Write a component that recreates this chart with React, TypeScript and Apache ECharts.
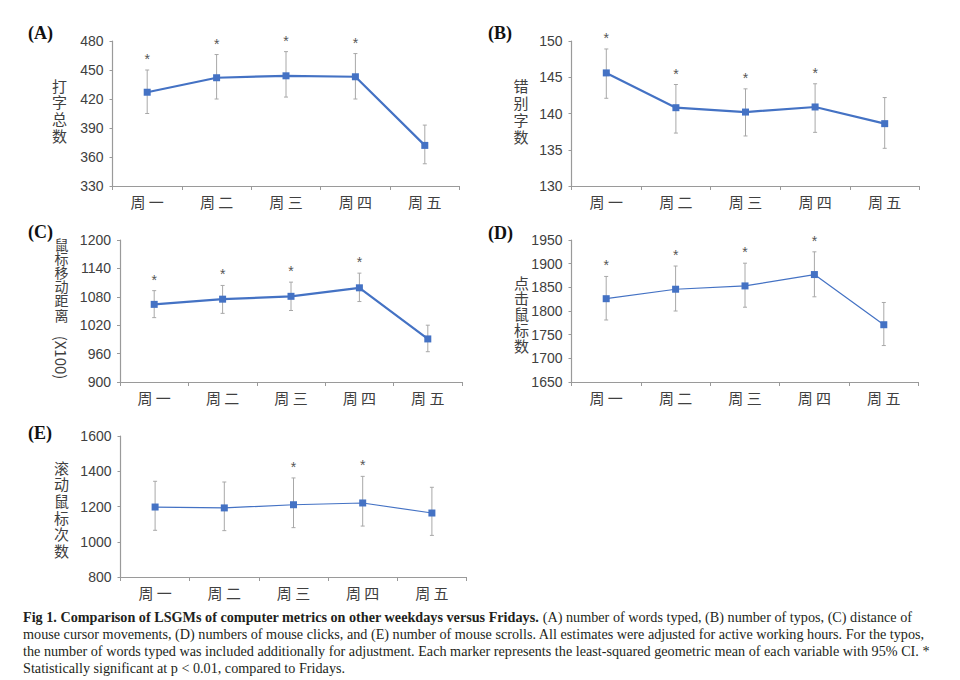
import React, { useEffect, useRef } from "react";
import * as echarts from "echarts";

const categories = ["周一", "周二", "周三", "周四", "周五"];

// (A) number of words typed
const wordsMean = [427, 442, 444, 443, 372];
const wordsLow = [405, 420, 422, 420, 353];
const wordsHigh = [450, 466, 469, 467, 393];
const wordsSig = [1, 1, 1, 1, 0];

// (B) number of typos
const typosMean = [145.6, 140.8, 140.2, 140.9, 138.6];
const typosLow = [142.1, 137.3, 136.9, 137.4, 135.2];
const typosHigh = [148.9, 144.0, 143.4, 144.1, 142.2];
const typosSig = [1, 1, 1, 1, 0];

// (C) mouse cursor distance (x100)
const distMean = [1064, 1075, 1081, 1099, 991];
const distLow = [1036, 1045, 1051, 1070, 964];
const distHigh = [1093, 1104, 1111, 1130, 1020];
const distSig = [1, 1, 1, 1, 0];

// (D) mouse clicks
const clickMean = [1826, 1846, 1853, 1877, 1771];
const clickLow = [1781, 1800, 1808, 1830, 1727];
const clickHigh = [1873, 1895, 1901, 1925, 1818];
const clickSig = [1, 1, 1, 1, 0];

// (E) mouse scrolls
const scrollMean = [1197, 1192, 1210, 1220, 1163];
const scrollLow = [1065, 1063, 1080, 1089, 1036];
const scrollHigh = [1343, 1339, 1362, 1371, 1309];
const scrollSig = [0, 0, 1, 1, 0];

const yMins = [330, 130, 900, 1650, 800];
const yMaxs = [480, 150, 1200, 1950, 1600];
const yIntervals = [30, 5, 60, 50, 200];

const panelLetters = ["(A)", "(B)", "(C)", "(D)", "(E)"];
const yNames = ["打字总数", "错别字数", "鼠标移动距离", "点击鼠标数", "滚动鼠标次数"];
const yNameSuffixC = "(X100)";

const captionBold = "Fig 1. Comparison of LSGMs of computer metrics on other weekdays versus Fridays.";
const captionLines = [
  " (A) number of words typed, (B) number of typos, (C) distance of",
  "mouse cursor movements, (D) numbers of mouse clicks, and (E) number of mouse scrolls. All estimates were adjusted for active working hours. For the typos,",
  "the number of words typed was included additionally for adjustment. Each marker represents the least-squared geometric mean of each variable with 95% CI. *",
  "Statistically significant at p < 0.01, compared to Fridays.",
];

const panels = [
  { mean: wordsMean, low: wordsLow, high: wordsHigh, sig: wordsSig },
  { mean: typosMean, low: typosLow, high: typosHigh, sig: typosSig },
  { mean: distMean, low: distLow, high: distHigh, sig: distSig },
  { mean: clickMean, low: clickLow, high: clickHigh, sig: clickSig },
  { mean: scrollMean, low: scrollLow, high: scrollHigh, sig: scrollSig },
];

// layout
const grids = [
  { left: 112.5, top: 41, width: 347, height: 145 },
  { left: 571.5, top: 41, width: 348, height: 145 },
  { left: 120, top: 240, width: 342, height: 142 },
  { left: 571.5, top: 240, width: 347, height: 142 },
  { left: 120.5, top: 436, width: 346, height: 141 },
];
const lineWidths = [2.2, 2.2, 2.2, 1.2, 1.2];
const letterPos = [
  [28, 33],
  [488, 33],
  [28, 232],
  [488, 233],
  [28, 433],
];
// x, first char y, step, font size
const namePos = [
  [59.5, 85, 16.7, 15],
  [521, 85, 17.2, 15],
  [61.5, 243.5, 14.2, 14],
  [521.5, 282, 15.8, 15],
  [61.5, 467, 16.7, 15],
];

const BLUE = "#4472C4";
const SANS = "'Liberation Sans', Arial, 'Noto Sans CJK SC', sans-serif";
const CJK = "'Noto Sans CJK SC', sans-serif";
const SERIF = "'Liberation Serif', 'Times New Roman', serif";
const CAP_FS = 14.2;

export default function App() {
  const ref = useRef<HTMLDivElement>(null);

  useEffect(() => {
    if (!ref.current) return;
    const chart = echarts.init(ref.current, null, { renderer: "svg" });

    const xAxis = grids.map((_, i) => ({
      type: "category",
      gridIndex: i,
      data: categories,
      boundaryGap: true,
      axisLine: { lineStyle: { color: "#9a9a9a", width: 1.2 } },
      axisTick: { show: true, length: 4, lineStyle: { color: "#9a9a9a" } },
      axisLabel: {
        color: "#404040",
        fontSize: 15,
        fontFamily: CJK,
        margin: 8,
        formatter: (v: string) => v.split("").join(" "),
      },
      splitLine: { show: false },
    }));

    const yAxis = grids.map((_, i) => ({
      type: "value",
      gridIndex: i,
      min: yMins[i],
      max: yMaxs[i],
      interval: yIntervals[i],
      axisLine: { show: true, lineStyle: { color: "#9a9a9a", width: 1.2 } },
      axisTick: { show: true, length: 3, lineStyle: { color: "#9a9a9a" } },
      axisLabel: {
        color: "#404040",
        fontSize: 14,
        fontFamily: SANS,
        margin: 9,
        formatter: (v: number) => String(v),
      },
      splitLine: { show: false },
    }));

    const series: any[] = [];
    panels.forEach((p, i) => {
      series.push({
        type: "custom",
        xAxisIndex: i,
        yAxisIndex: i,
        z: 1,
        encode: { x: 0, y: [1, 2] },
        data: p.mean.map((_, k) => [k, p.low[k], p.high[k], p.sig[k]]),
        renderItem: (params: any, api: any) => {
          const x = api.value(0);
          const lo = api.coord([x, api.value(1)]);
          const hi = api.coord([x, api.value(2)]);
          const cap = 2;
          const stroke = { stroke: "#a8a8a8", lineWidth: 1 };
          const children: any[] = [
            { type: "line", shape: { x1: lo[0], y1: lo[1], x2: hi[0], y2: hi[1] }, style: stroke },
            { type: "line", shape: { x1: lo[0] - cap, y1: lo[1], x2: lo[0] + cap, y2: lo[1] }, style: stroke },
            { type: "line", shape: { x1: hi[0] - cap, y1: hi[1], x2: hi[0] + cap, y2: hi[1] }, style: stroke },
          ];
          if (api.value(3)) {
            children.push({
              type: "text",
              x: hi[0],
              y: hi[1] - 4,
              style: {
                text: "*",
                fill: "#555555",
                font: `14px ${SANS}`,
                align: "center",
                verticalAlign: "bottom",
              },
            });
          }
          return { type: "group", children };
        },
      });
      series.push({
        type: "line",
        xAxisIndex: i,
        yAxisIndex: i,
        z: 3,
        data: p.mean,
        symbol: "rect",
        symbolSize: 7,
        showSymbol: true,
        itemStyle: { color: BLUE },
        lineStyle: { color: BLUE, width: lineWidths[i] },
      });
    });

    const graphic: any[] = [];
    panelLetters.forEach((t, i) => {
      graphic.push({
        type: "text",
        x: letterPos[i][0],
        y: letterPos[i][1],
        style: {
          text: t,
          font: `bold 18px ${SERIF}`,
          fill: "#111111",
          align: "left",
          verticalAlign: "middle",
        },
      });
    });
    yNames.forEach((t, i) => {
      const [cx, y0, step, fs] = namePos[i];
      t.split("").forEach((ch, k) => {
        graphic.push({
          type: "text",
          x: cx,
          y: y0 + k * step,
          style: {
            text: ch,
            font: `${fs}px ${CJK}`,
            fill: "#404040",
            align: "center",
            verticalAlign: "middle",
          },
        });
      });
    });
    graphic.push({
      type: "text",
      x: 61.5,
      y: 357.5,
      rotation: -Math.PI / 2,
      style: {
        text: yNameSuffixC,
        font: `15px ${CJK}`,
        fill: "#404040",
        align: "center",
        verticalAlign: "middle",
      },
    });

    const capY = [617, 634, 651, 668];
    graphic.push({
      type: "text",
      x: 23,
      y: capY[0],
      style: {
        text: `{b|${captionBold}}{n|${captionLines[0]}}`,
        rich: {
          b: { font: `bold ${CAP_FS}px ${SERIF}`, fill: "#231f20" },
          n: { font: `${CAP_FS}px ${SERIF}`, fill: "#231f20" },
        },
        align: "left",
        verticalAlign: "middle",
      },
    });
    for (let k = 1; k < captionLines.length; k++) {
      graphic.push({
        type: "text",
        x: 23,
        y: capY[k],
        style: {
          text: captionLines[k],
          font: `${CAP_FS}px ${SERIF}`,
          fill: "#231f20",
          align: "left",
          verticalAlign: "middle",
        },
      });
    }

    chart.setOption({
      animation: false,
      backgroundColor: "#ffffff",
      grid: grids.map((g) => ({ ...g, containLabel: false })),
      xAxis,
      yAxis,
      series,
      graphic,
    });

    return () => chart.dispose();
  }, []);

  return (
    <div
      ref={ref}
      style={{ position: "fixed", left: 0, top: 0, width: 960, height: 680, background: "#fff" }}
    />
  );
}
